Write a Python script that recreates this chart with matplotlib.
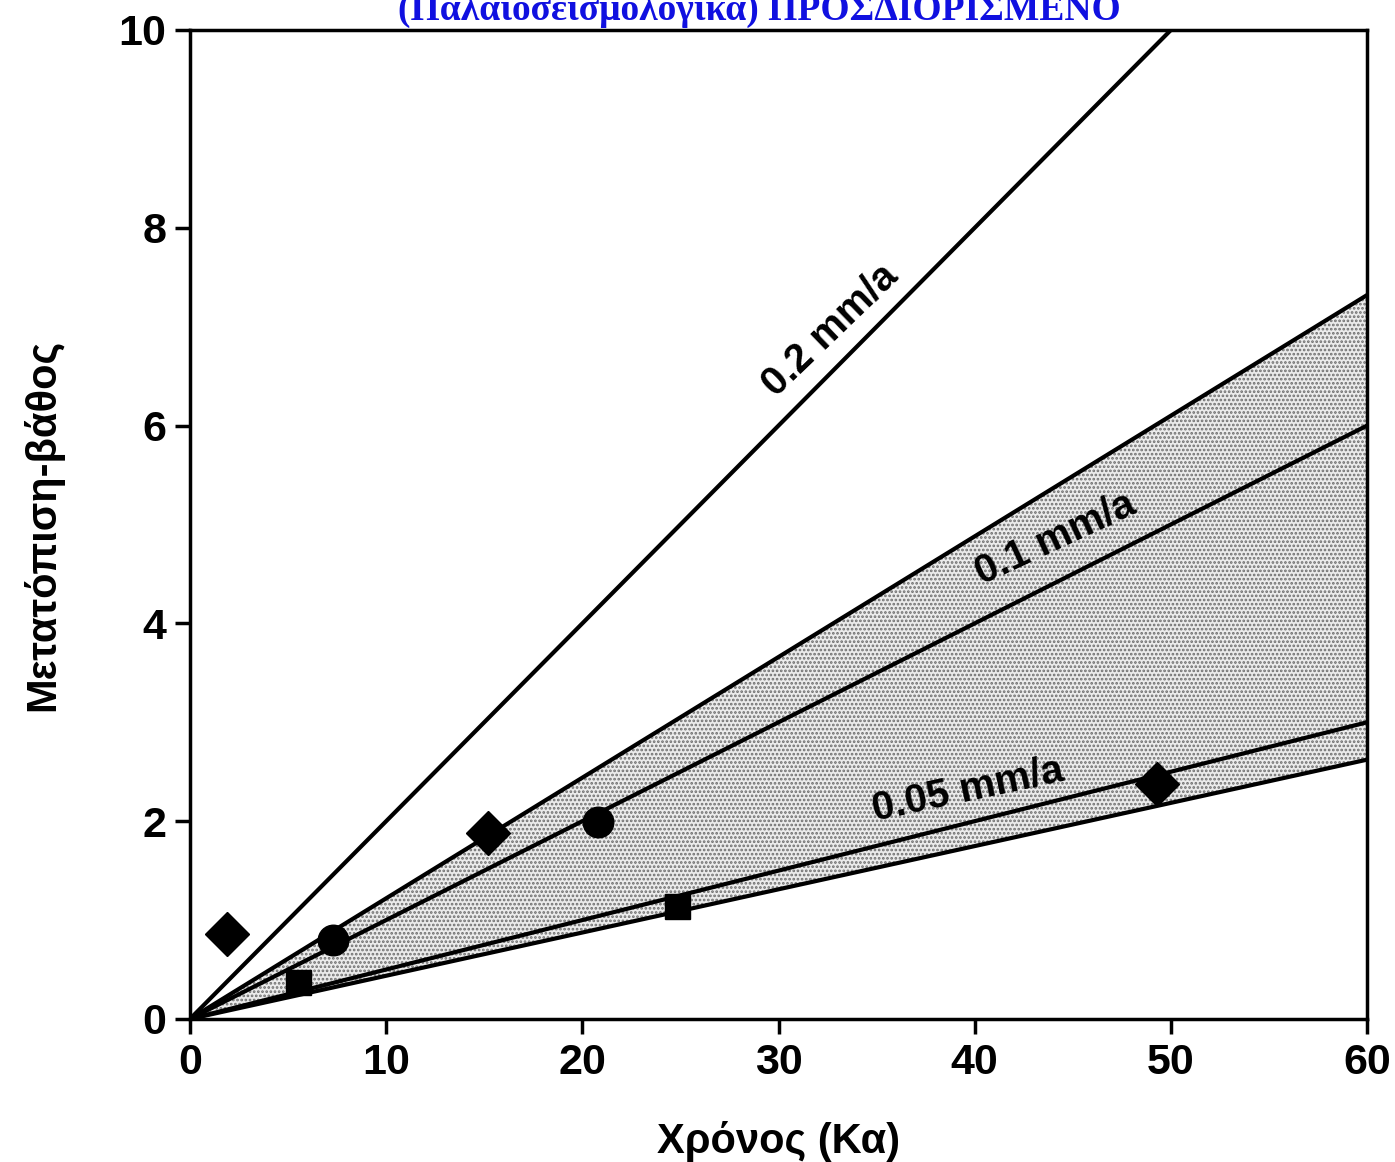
import numpy as np
import matplotlib
matplotlib.use("Agg")
import matplotlib.pyplot as plt

# rate lines (mm/a) and the shaded band limits
rate_lines = [0.2, 0.1, 0.05]
rate_labels = ["0.2 mm/a", "0.1 mm/a", "0.05 mm/a"]
band_upper = 0.122
band_lower = 0.0437

# data points (Ka, m)
diamond_x = [1.9, 15.2, 49.3]
diamond_y = [0.86, 1.88, 2.38]
circle_x = [7.3, 20.8]
circle_y = [0.80, 1.99]
square_x = [5.5, 24.8]
square_y = [0.37, 1.14]

xticks = [0, 10, 20, 30, 40, 50, 60]
yticks = [0, 2, 4, 6, 8, 10]

plt.rcParams['font.family'] = ['Liberation Sans', 'DejaVu Sans']
plt.rcParams['font.weight'] = 'bold'
plt.rcParams['axes.labelweight'] = 'bold'
plt.rcParams['hatch.linewidth'] = 1.3
plt.rcParams['hatch.color'] = '#6e6e6e'

fig = plt.figure(figsize=(13.95, 11.62), dpi=100)
ax = fig.add_axes([0.1362, 0.1231, 0.98 - 0.1362, 0.9742 - 0.1231])

x = np.array([0, 60])
ax.fill_between(x, band_lower * x, band_upper * x, facecolor='#ebebeb',
                edgecolor='#6e6e6e', hatch='....', linewidth=0, zorder=1)
ax.plot(x, band_upper * x, color='black', lw=3, zorder=2)
ax.plot(x, band_lower * x, color='black', lw=3, zorder=2)
for r in rate_lines:
    ax.plot(x, r * x, color='black', lw=3, zorder=2)

ax.plot(diamond_x, diamond_y, 'D', color='black', ms=22, zorder=3)
ax.plot(circle_x, circle_y, 'o', color='black', ms=22, zorder=3)
ax.plot(square_x, square_y, 's', color='black', ms=18, zorder=3)

# line labels
ax.text(32.6, 6.97, rate_labels[0], rotation=44, fontsize=29, ha='center',
        va='center', rotation_mode='anchor')
ax.text(44.1, 4.86, rate_labels[1], rotation=25, fontsize=29, ha='center',
        va='center', rotation_mode='anchor')
ax.text(39.65, 2.32, rate_labels[2], rotation=12, fontsize=29, ha='center',
        va='center', rotation_mode='anchor')

ax.set_xlim(0, 60)
ax.set_ylim(0, 10)
ax.set_xticks(xticks)
ax.set_yticks(yticks)
ax.tick_params(direction='out', length=11, width=2.5, labelsize=31, pad=6)
for s in ax.spines.values():
    s.set_linewidth(2.5)

ax.set_xlabel("Χρόνος (Κα)", fontsize=30, labelpad=28)
ax.set_ylabel("Μετατόπιση-βάθος", fontsize=30, labelpad=40)

fig.text(0.544, 0.992, "(Παλαιοσεισμολογικά) ΠΡΟΣΔΙΟΡΙΣΜΕΝΟ", color='#1010e0',
         fontsize=27, fontweight='bold', family='Liberation Serif',
         ha='center', va='center')

fig.savefig("out.png", dpi=100)
